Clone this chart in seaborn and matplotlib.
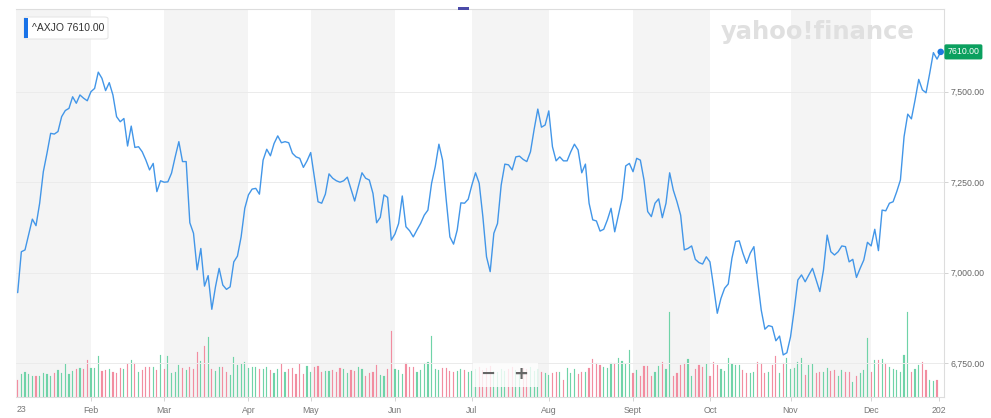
import numpy as np
import pandas as pd
import matplotlib
matplotlib.use("Agg")
import matplotlib.pyplot as plt
import seaborn as sns
from matplotlib.patches import FancyBboxPatch, Rectangle
from matplotlib.ticker import FuncFormatter

# ---------------- data ----------------
ticker = "^AXJO"
close = [
    6945, 7058, 7063, 7105, 7148, 7130, 7192, 7279, 7330, 7385,
    7383, 7390, 7431, 7448, 7454, 7486, 7468, 7491, 7482, 7475,
    7500, 7509, 7554, 7537, 7503, 7525, 7491, 7431, 7417, 7426,
    7350, 7405, 7346, 7348, 7334, 7311, 7284, 7302, 7224, 7254,
    7250, 7251, 7275, 7320, 7362, 7307, 7307, 7138, 7109, 7008,
    7067, 6963, 6992, 6899, 6961, 7012, 6966, 6954, 6961, 7030,
    7046, 7099, 7178, 7215, 7231, 7233, 7217, 7311, 7341, 7323,
    7357, 7378, 7359, 7362, 7359, 7330, 7320, 7316, 7291, 7309,
    7332, 7264, 7196, 7192, 7217, 7273, 7261, 7254, 7250, 7254,
    7264, 7231, 7198, 7238, 7276, 7261, 7256, 7219, 7138, 7153,
    7215, 7208, 7090, 7107, 7136, 7212, 7127, 7116, 7099, 7118,
    7136, 7159, 7173, 7247, 7293, 7355, 7311, 7201, 7099, 7079,
    7118, 7193, 7192, 7203, 7242, 7276, 7247, 7155, 7044, 7003,
    7109, 7136, 7242, 7300, 7298, 7284, 7320, 7322, 7313, 7307,
    7334, 7396, 7452, 7402, 7408, 7447, 7348, 7309, 7320, 7309,
    7309, 7334, 7355, 7339, 7276, 7300, 7192, 7146, 7143, 7115,
    7120, 7146, 7178, 7113, 7159, 7205, 7295, 7302, 7279, 7316,
    7311, 7256, 7169, 7155, 7192, 7204, 7152, 7192, 7276, 7228,
    7196, 7159, 7063, 7067, 7074, 7037, 7028, 7024, 7044, 7030,
    6961, 6888, 6929, 6957, 6969, 7040, 7086, 7088, 7054, 7026,
    7054, 7072, 6980, 6897, 6844, 6854, 6851, 6812, 6825, 6773,
    6779, 6823, 6897, 6980, 6994, 6975, 6994, 7012, 6980, 6948,
    7008, 7104, 7058, 7049, 7058, 7074, 7072, 7030, 7037, 6987,
    7012, 7035, 7084, 7074, 7120, 7061, 7173, 7171, 7192, 7196,
    7224, 7256, 7376, 7438, 7425, 7477, 7534, 7505, 7497, 7551,
    7608, 7590, 7610,
]
volume = [
    52, 70, 77, 69, 65, 64, 64, 74, 69, 65,
    72, 82, 72, 100, 70, 79, 85, 89, 84, 112,
    89, 89, 125, 80, 82, 85, 77, 72, 87, 84,
    99, 112, 104, 77, 82, 90, 92, 92, 82, 128,
    84, 125, 74, 77, 97, 89, 82, 92, 85, 135,
    109, 154, 180, 85, 80, 92, 92, 77, 67, 122,
    97, 100, 107, 89, 92, 92, 84, 84, 92, 82,
    74, 84, 100, 77, 84, 87, 70, 100, 69, 94,
    77, 92, 95, 75, 80, 80, 82, 77, 87, 84,
    74, 82, 79, 92, 84, 64, 72, 77, 97, 67,
    64, 84, 199, 84, 82, 69, 104, 92, 92, 75,
    82, 104, 107, 184, 84, 82, 89, 89, 79, 77,
    80, 84, 82, 77, 78, 85, 90, 82, 88, 95,
    80, 76, 84, 79, 86, 90, 82, 77, 88, 84,
    92, 80, 85, 77, 72, 67, 74, 77, 77, 52,
    89, 74, 84, 70, 77, 77, 89, 115, 104, 97,
    92, 89, 102, 104, 119, 110, 100, 142, 72, 82,
    64, 94, 94, 64, 77, 95, 107, 84, 255, 64,
    72, 97, 102, 115, 64, 84, 97, 92, 100, 64,
    107, 97, 84, 80, 117, 100, 97, 97, 82, 72,
    72, 75, 107, 102, 74, 77, 97, 124, 72, 104,
    119, 84, 87, 107, 119, 67, 97, 100, 74, 77,
    77, 87, 80, 82, 64, 82, 75, 75, 47, 64,
    74, 82, 177, 77, 112, 112, 115, 102, 92, 84,
    82, 77, 127, 255, 77, 84, 97, 107, 82, 52,
    49, 52,
]
month_labels = ["Feb", "Mar", "Apr", "May", "Jun", "Jul", "Aug", "Sept", "Oct", "Nov", "Dec", "202"]
month_starts = [20, 40, 63, 80, 103, 124, 145, 168, 189, 211, 233, 251.5]
price_ticks = [6750, 7000, 7250, 7500]

# ---------------- styling ----------------
sns.set_theme(style="white")
plt.rcParams["font.family"] = ["Liberation Sans", "DejaVu Sans"]

W, H = 991, 418
fig = plt.figure(figsize=(W / 100, H / 100), dpi=100)
fig.patch.set_facecolor("white")

def fx(px):
    return px / W

def fy(py):
    return 1 - py / H

left, right, top, bottom = 16, 944, 9, 397.3
pos = [fx(left), fy(bottom), fx(right - left), (bottom - top) / H]

axv = fig.add_axes(pos)
ax = fig.add_axes(pos, sharex=axv)
ax.patch.set_visible(False)

n = len(close)
idx = np.arange(n)
x_lo, x_hi = -0.46, 252.9

# alternating month bands (Jan, Mar, May, Jul, Sep, Nov shaded)
bounds = [x_lo] + month_starts[:-1] + [month_starts[-1]]
for k in range(0, len(bounds) - 1, 2):
    axv.axvspan(bounds[k], bounds[k + 1], color="#f4f4f4", lw=0, zorder=0)

# volume bars, coloured by daily direction
UP, DOWN = "#6fd3a8", "#f28da0"
vol_idx = np.arange(len(volume))
direction = ["down"] + ["up" if close[i] >= close[i - 1] else "down" for i in range(1, len(volume))]
vdf = pd.DataFrame({"idx": vol_idx, "vol": volume, "dir": direction})
sns.barplot(data=vdf, x="idx", y="vol", hue="dir", native_scale=True, errorbar=None,
            palette={"up": UP, "down": DOWN}, width=0.32,
            linewidth=0, saturation=1, dodge=False, legend=False, ax=axv)
for p in axv.patches:
    if hasattr(p, "get_height") and p.get_height() > 0 and p.get_width() < 1:
        p.set_edgecolor(p.get_facecolor())
        p.set_linewidth(0.12)
axv.set_ylim(0, (bottom - top) * 3)
axv.set_yticks([])
axv.set_ylabel("")
axv.set_xlabel("")
for s in axv.spines.values():
    s.set_visible(False)

# price line
pdf = pd.DataFrame({"idx": idx, "close": close})
sns.lineplot(data=pdf, x="idx", y="close", ax=ax, color="#4296e8", linewidth=1.0, zorder=3)
sns.scatterplot(x=[idx[-1]], y=[close[-1]], ax=ax, color="#1f7ae0", s=22, edgecolor="none", zorder=4)

ylo = 7500 - (bottom - 91.7) * 2.762
yhi = 7500 + (91.7 - top) * 2.762
ax.set_ylim(ylo, yhi)
ax.set_xlim(x_lo, x_hi)
ax.set_xlabel("")
ax.set_ylabel("")

ax.yaxis.tick_right()
ax.set_yticks(price_ticks)
ax.yaxis.set_major_formatter(FuncFormatter(lambda v, p: f"{v:,.2f}"))
ax.tick_params(axis="y", right=True, length=3, width=0.6, color="#cccccc",
               labelsize=6.3, labelcolor="#666666", pad=2)
ax.yaxis.grid(True, color="#ebebeb", lw=0.7)
ax.set_axisbelow(True)

ax.set_xticks(month_starts)
ax.set_xticklabels(month_labels)
ax.tick_params(axis="x", bottom=True, length=3, width=0.6, color="#cccccc",
               labelsize=6.3, labelcolor="#777777", pad=3.5)
plt.setp(axv.get_xticklabels(), visible=False)
axv.tick_params(axis="x", bottom=False, length=0)

for name, s in ax.spines.items():
    s.set_color("#dddddd")
    s.set_linewidth(0.8)
ax.spines["left"].set_visible(False)

# "23" clipped year label at left
fig.text(fx(16.5), fy(410), "23", fontsize=6.3, color="#777777", ha="left", va="center")

# ticker badge
badge = FancyBboxPatch((fx(24), fy(39)), fx(84), (39 - 17) / H, boxstyle="round,pad=0,rounding_size=0.004",
                       transform=fig.transFigure, facecolor="white", edgecolor="#e6e6e6", lw=0.8, zorder=10)
fig.patches.append(badge)
fig.patches.append(Rectangle((fx(24), fy(38)), fx(3.5), (38 - 18) / H, transform=fig.transFigure,
                             facecolor="#1a73e8", edgecolor="none", zorder=11))
fig.text(fx(32), fy(28), f"{ticker} {close[-1]:.2f}", fontsize=7.5, color="#333333",
         ha="left", va="center", zorder=12)

# last price tag
ax.annotate(f"{close[-1]:.2f}", xy=(1.0, close[-1]), xycoords=("axes fraction", "data"),
            xytext=(2.5, 0), textcoords="offset points", ha="left", va="center",
            fontsize=6.3, color="white", annotation_clip=False,
            bbox=dict(boxstyle="round,pad=0.35,rounding_size=0.2", fc="#0ba05f", ec="none"))

# watermark logo
fig.text(fx(818), fy(32), "yahoo!finance", fontsize=17.5, fontweight="bold", color="#e0e0e0",
         ha="center", va="center", family="DejaVu Sans", zorder=1)

# zoom buttons
fig.patches.append(Rectangle((fx(473), fy(387)), fx(65), (387 - 363) / H, transform=fig.transFigure,
                             facecolor="white", alpha=0.8, edgecolor="none", zorder=5))
fig.text(fx(488), fy(374), "\u2212", fontsize=13, fontweight="bold", color="#666666",
         ha="center", va="center", family="DejaVu Sans", zorder=6)
fig.text(fx(521), fy(374), "+", fontsize=13, fontweight="bold", color="#666666",
         ha="center", va="center", family="DejaVu Sans", zorder=6)

# navigator marker at top
fig.patches.append(Rectangle((fx(458), fy(9.5)), fx(11), 2 / H, transform=fig.transFigure,
                             facecolor="#4a4aa8", edgecolor="none", zorder=6))

fig.savefig("out.png", dpi=100, facecolor="white")
